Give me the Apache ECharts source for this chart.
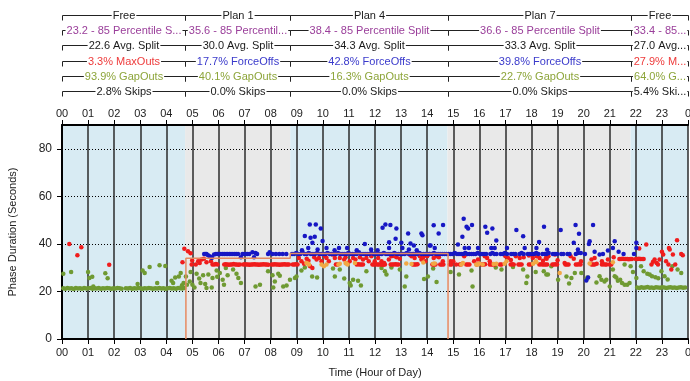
<!DOCTYPE html>
<html>
<head>
<meta charset="utf-8">
<title>Split Monitor</title>
<script src="https://cdn.jsdelivr.net/npm/echarts@6/dist/echarts.min.js"></script>
<style>
  html, body { margin: 0; padding: 0; background: #fff; }
  #chart { width: 690px; height: 381px; }
</style>
</head>
<body>
<div id="chart"></div>
<script>
// ---- axis labels ----
const hourLabels = ['00','01','02','03','04','05','06','07','08','09','10','11',
  '12','13','14','15','16','17','18','19','20','21','22','23','0'];

// ---- timing plan periods (hour of day) ----
const planStarts = [0, 4.72, 8.75, 14.78, 21.8];
const planEnds   = [4.72, 8.75, 14.78, 21.8, 24];

// ---- per-plan summary rows ----
const planNames = ['Free', 'Plan 1', 'Plan 4', 'Plan 7', 'Free'];
const pctSplitLabels = ['23.2 - 85 Percentile S...', '35.6 - 85 Percentil...',
  '38.4 - 85 Percentile Split', '36.6 - 85 Percentile Split', '33.4 - 85...'];
const avgSplitLabels = ['22.6 Avg. Split', '30.0 Avg. Split', '34.3 Avg. Split',
  '33.3 Avg. Split', '27.0 Avg...'];
const terminationLabels = ['3.3% MaxOuts', '17.7% ForceOffs', '42.8% ForceOffs',
  '39.8% ForceOffs', '27.9% M...'];
const terminationKinds = ['max', 'force', 'force', 'force', 'max'];
const gapOutLabels = ['93.9% GapOuts', '40.1% GapOuts', '16.3% GapOuts',
  '22.7% GapOuts', '64.0% G...'];
const skipLabels = ['2.8% Skips', '0.0% Skips', '0.0% Skips', '0.0% Skips', '5.4% Ski...'];

// ---- programmed split (seconds) ----
const programmedSplit = [[4.75, 0], [4.75, 34], [8.75, 34], [8.75, 36], [14.8, 36], [14.8, 0]];

// ---- phase terminations: [hour, duration seconds] ----
const gapOuts = [
  [0.05,21.3],[0.13,21.1],[0.21,21.4],[0.29,21.2],[0.37,21.3],[0.45,21.0],[0.53,21.4],[0.61,21.2],
  [0.69,21.3],[0.77,21.1],[0.85,21.4],[0.93,21.2],[1.01,21.3],[1.09,21.5],[1.17,21.1],[1.25,21.3],
  [1.33,21.2],[1.41,21.4],[1.49,21.1],[1.57,21.3],[1.65,21.2],[1.73,21.4],[1.81,21.3],[1.89,21.1],
  [1.97,21.3],[2.05,21.2],[2.13,21.4],[2.21,21.3],[2.29,21.1],[2.45,21.3],[2.53,21.2],[2.61,21.4],
  [2.69,21.1],[2.77,21.3],[2.85,21.2],[2.93,21.4],[3.01,21.3],[3.09,21.1],[3.17,21.3],[3.25,21.2],
  [3.33,21.4],[3.41,21.3],[3.49,21.1],[3.57,21.3],[3.65,21.2],[3.73,21.4],[3.81,21.2],[3.89,21.3],
  [3.97,21.1],[4.05,21.3],[4.13,21.4],[4.21,21.2],[4.29,21.3],[4.37,21.1],[4.45,21.5],[4.53,21.3],
  [4.61,21.2],[4.69,21.4],
  [0.05,27.4],[0.35,28.2],[1.0,28.2],[1.05,25.7],[1.16,26.2],[1.2,22.1],[1.66,27.6],[1.75,25.5],
  [2.9,23.1],[3.09,28.8],[3.17,27.8],[3.36,30.3],[3.65,23.5],[3.74,31.0],[3.96,30.7],[4.2,24.5],
  [4.26,23.5],[4.34,25.9],[4.48,26.3],[4.55,27.8],[4.6,22.6],[4.66,23.5],
  [4.75,26.3],[4.79,22.8],[4.9,24.2],[4.93,28.2],[5.0,22.8],[5.08,21.7],[5.16,27.4],[5.26,25.4],
  [5.31,23.5],[5.41,26.8],[5.49,23.1],[5.54,21.4],[5.61,27.1],[5.74,21.7],[5.77,25.7],[5.93,28.8],
  [5.95,26.2],[6.05,27.8],[6.16,24.9],[6.21,22.8],[6.28,29.9],[6.35,26.8],[6.56,29.2],[6.69,27.4],
  [6.76,25.7],[6.86,23.5],[7.42,22.1],[7.59,22.8],[7.9,28.5],[8.07,26.8],[8.1,21.7],[8.16,24.2],
  [8.29,27.4],[8.35,26.6],[8.48,22.1],[8.61,22.5],[8.74,24.9],
  [8.93,25.7],[8.99,26.3],[9.18,28.8],[9.31,30.1],[9.59,26.3],[9.78,25.9],[10.39,29.6],[10.46,26.3],
  [10.65,29.2],[10.82,25.4],[10.95,31.7],[11.03,23.5],[11.07,22.5],[11.16,24.9],[11.35,24.5],
  [11.46,22.5],[11.67,28.5],[12.25,29.9],[12.38,28.5],[12.44,27.1],[12.63,30.1],[12.95,29.2],
  [13.14,22.1],[13.2,26.3],[13.88,25.2],[14.03,26.3],[14.23,29.6],[14.36,24.0],
  [14.9,28.2],[15.22,27.1],[15.7,28.8],[15.74,22.1],[16.63,30.1],[16.85,29.2],[17.29,30.3],
  [17.68,29.2],[17.8,23.5],[17.84,26.3],[18.16,28.2],[18.47,28.5],[18.57,27.1],[18.63,27.1],
  [18.76,30.6],[19.02,24.9],[19.34,26.3],[19.44,23.3],[19.53,25.7],[19.66,27.8],[19.91,27.8],
  [20.1,24.9],[20.14,25.9],[20.49,23.8],[20.61,26.4],[20.68,24.9],[20.8,24.2],[20.87,24.9],
  [21.0,22.1],[21.12,29.2],[21.19,26.4],[21.25,25.9],[21.31,24.5],[21.4,24.9],[21.47,23.5],
  [21.57,22.8],[21.57,31.3],[21.67,22.8],[21.76,23.5],[21.8,30.6],
  [21.89,28.2],[22.02,25.7],[22.2,30.6],[22.3,28.5],[22.44,27.4],[22.53,27.1],[22.62,26.4],
  [22.75,26.0],[22.86,25.6],[22.98,28.5],[23.1,26.4],[23.22,25.0],[23.4,30.6],[23.6,29.2],[23.74,27.8],
  [22.05,21.7],[22.13,21.5],[22.21,21.8],[22.29,21.6],[22.37,21.7],[22.45,21.9],[22.53,21.6],
  [22.61,21.7],[22.69,21.5],[22.77,21.8],[22.85,21.7],[22.93,21.6],[23.01,21.8],[23.09,21.7],
  [23.17,21.5],[23.25,21.7],[23.33,21.8],[23.41,21.6],[23.49,21.7],[23.57,21.5],[23.65,21.7],
  [23.73,21.8],[23.81,21.6],[23.89,21.7]
];

const maxOuts = [
  [0.28,40.0],[0.59,35.2],[0.74,38.6],[1.81,31.2],
  [4.62,32.3],[4.69,38.0],[4.83,36.9],[4.93,36.1],[4.99,33.0],[4.97,31.3],[5.13,31.3],[5.22,32.7],
  [5.28,32.0],[5.35,33.4],[5.44,33.8],[5.54,32.3],[5.71,32.7],
  [5.77,31.3],[5.84,31.3],[5.90,31.5],[5.96,31.3],[6.22,31.3],[6.28,31.4],[6.34,31.3],[6.40,31.2],
  [6.46,31.3],[6.52,31.3],[6.58,31.5],[6.64,31.3],[6.70,31.3],[6.76,31.2],[6.82,31.3],[6.95,31.3],
  [7.01,31.4],[7.07,31.3],[7.13,31.3],[7.19,31.2],[7.25,31.3],[7.31,31.3],[7.37,31.4],[7.43,31.3],
  [7.49,31.3],[7.55,31.2],[7.61,31.3],[7.67,31.3],[7.73,31.4],[7.79,31.3],[7.85,31.3],[7.91,31.2],
  [8.04,31.3],[8.10,31.3],[8.16,31.4],[8.22,31.3],[8.28,31.3],[8.34,31.2],[8.40,31.3],[8.46,31.3],
  [8.52,31.4],[8.58,31.3],[8.64,31.3],[8.70,31.3],
  [8.85,31.3],[8.91,31.3],[8.97,31.4],[9.03,31.3],[9.51,30.6],[9.6,29.9],[10.5,31.3],[10.56,31.3],
  [11.3,31.3],[11.36,31.4],[11.42,31.3],[11.48,31.3],[11.54,31.3],[11.9,31.3],[11.96,31.3],
  [12.02,31.4],[12.08,31.3],[12.14,31.3],[12.2,31.3],[12.26,31.3],[12.32,31.2],[12.38,31.3],
  [12.6,31.3],[12.66,31.3],[12.72,31.3],[12.78,31.4],[12.84,31.3],[12.9,31.3],[13.45,31.3],
  [13.51,31.3],[13.57,31.3],[13.63,31.4],[14.2,31.3],[14.26,31.3],[14.32,31.3],[14.5,31.3],
  [14.56,31.3],[14.62,31.3],
  [9.08,34.1],[9.18,32.7],[9.28,31.6],[9.38,33.8],[9.45,32.9],[9.67,34.4],[9.76,33.4],[9.85,34.1],
  [9.95,32.7],[10.08,34.8],[10.14,34.1],[10.23,32.7],[10.36,35.5],[10.46,34.1],[10.65,34.1],
  [10.82,33.4],[10.87,34.4],[11.03,32.7],[11.16,34.1],[11.25,33.4],[11.42,34.4],[11.54,33.4],
  [11.67,34.1],[11.76,32.7],[11.86,34.8],[11.99,32.7],[12.12,34.1],[12.25,32.7],[12.35,32.0],
  [12.53,33.4],[12.63,34.8],[12.64,35.6],[12.76,34.8],[12.83,34.4],[12.95,33.8],[13.33,35.5],
  [13.4,34.8],[13.46,35.8],[13.52,34.1],[13.72,34.8],[13.78,33.4],[13.85,34.4],[13.93,32.7],
  [14.0,34.8],[14.1,35.8],[14.25,34.1],[14.35,34.8],[14.45,34.4],[14.6,32.7],
  [14.87,31.3],[14.93,31.3],[15.25,31.3],[15.31,31.4],[15.5,31.3],[15.56,31.3],[15.62,31.3],
  [15.9,31.3],[16.1,31.3],[16.16,31.3],[16.22,31.4],[16.4,31.3],[16.46,31.3],[16.52,31.3],
  [16.79,31.3],[16.85,31.3],[17.2,31.3],[17.26,31.4],[17.32,31.3],[17.5,31.3],[17.56,31.3],
  [17.62,31.3],[17.9,31.3],[17.96,31.3],[18.3,31.3],[18.36,31.4],[18.42,31.3],[18.48,31.3],
  [18.54,31.3],[18.6,31.3],[18.8,31.3],[18.86,31.3],[18.92,31.4],[18.98,31.3],[19.3,31.3],
  [19.36,31.3],[19.42,31.3],[19.7,31.3],[19.76,31.3],[19.82,31.4],[19.88,31.3],[20.3,31.3],
  [20.36,31.3],[20.42,31.3],[20.7,31.3],[20.76,31.4],[20.82,31.3],[20.88,31.3],[21.0,31.3],[21.06,31.3],
  [14.9,32.7],[15.0,32.7],[15.11,31.3],[15.42,34.8],[15.5,35.8],[15.8,32.7],[15.95,33.4],[16.21,34.8],
  [16.3,34.1],[16.4,32.7],[16.6,31.3],[17.0,34.8],[17.1,34.1],[17.21,33.2],[17.4,34.8],[17.55,34.1],
  [17.7,34.4],[17.9,35.1],[18.05,34.1],[18.2,34.8],[18.31,34.1],[18.44,32.9],[18.55,34.1],
  [18.58,33.8],[18.65,34.8],[18.9,35.5],[19.0,33.1],[19.27,32.0],[19.5,34.8],[19.62,33.8],
  [19.9,32.7],[20.3,33.4],[20.42,34.1],[20.5,31.6],[20.7,32.7],[20.93,33.4],[21.15,34.4],
  [21.37,33.6],[21.43,33.6],[21.49,33.7],[21.55,33.6],[21.61,33.6],[21.67,33.6],[21.73,33.5],
  [21.79,33.6],[21.85,33.6],[22.0,33.6],[22.06,33.6],[22.12,33.7],[22.18,33.6],[22.24,33.6],[22.3,33.6],
  [22.13,38.1],[22.4,39.7],[22.6,31.3],[22.66,32.5],[22.72,33.4],[22.8,32.0],[22.85,31.3],
  [22.91,33.4],[23.0,36.7],[23.05,35.5],[23.16,32.7],[23.25,31.3],[23.27,38.3],[23.3,37.6],
  [23.36,29.2],[23.42,35.5],[23.51,31.3],[23.58,41.5],[23.74,35.8],[23.8,35.2]
];

const forceOffs = [
  [5.45,35.8],[5.5,35.8],[5.54,35.8],[5.6,35.2],[5.66,34.8],[5.72,34.4],[5.75,34.2],[5.83,35.5],
  [5.9,35.8],[5.96,35.8],[6.03,35.8],[6.09,35.8],[6.16,35.8],[6.22,35.8],[6.29,35.8],[6.35,35.8],
  [6.42,35.8],[6.48,35.8],[6.55,35.8],[6.62,35.8],[6.68,35.8],[6.75,35.8],[6.86,34.4],[6.92,35.8],
  [6.98,35.8],[7.05,35.8],[7.11,35.8],[7.18,35.8],[7.3,36.5],[7.36,34.4],[7.42,36.2],[7.48,35.8],
  [7.9,35.8],[7.96,36.5],[8.07,35.8],[8.2,35.8],[8.33,35.8],[8.46,35.8],[8.6,35.8],
  [8.82,35.8],[8.9,35.8],[8.98,36.2],[9.06,35.8],[9.14,35.8],[9.22,36.5],[9.3,35.8],[9.38,35.8],
  [9.46,36.2],[9.54,35.8],[9.62,35.8],[9.7,35.8],[9.78,36.2],[9.86,35.8],[9.94,35.8],[10.02,35.8],
  [10.1,35.8],[10.18,36.2],[10.26,35.8],[10.34,35.8],[10.42,35.8],[10.5,35.8],[10.58,36.2],
  [10.66,35.8],[10.74,35.8],[10.82,35.8],[10.9,35.8],[10.98,36.2],[11.06,35.8],[11.14,35.8],
  [11.22,35.8],[11.3,35.8],[11.38,36.5],[11.46,35.8],[11.54,35.8],[11.62,35.8],[11.7,35.8],
  [11.78,35.8],[11.86,36.2],[11.94,35.8],[12.02,35.8],[12.1,35.8],[12.18,35.8],[12.26,35.8],
  [12.34,36.2],[12.42,35.8],[12.5,35.8],[12.58,35.8],[12.66,35.8],[12.74,36.2],[12.82,35.8],
  [12.9,35.8],[12.98,35.8],[13.06,35.8],[13.14,35.8],[13.22,36.2],[13.3,35.8],[13.38,35.8],
  [13.46,35.8],[13.54,35.8],[13.62,35.8],[13.7,36.2],[13.78,35.8],[13.86,35.8],[13.94,35.8],
  [14.02,35.8],[14.1,35.8],[14.18,35.8],[14.26,36.2],[14.34,35.8],[14.42,35.8],[14.5,35.8],
  [14.58,35.8],[14.66,35.8],[14.74,35.8],
  [9.2,37.3],[9.44,38.3],[9.8,37.6],[10.14,38.3],[10.45,37.3],[10.62,38.3],[10.93,38.3],[11.3,37.3],
  [11.85,37.6],[12.1,37.3],[12.54,38.3],[13.05,38.3],[13.3,37.6],[13.49,39.3],[13.6,37.3],
  [14.13,39.3],[14.29,38.3],
  [9.31,43.3],[9.5,48.2],[9.53,42.6],[9.6,40.5],[9.69,43.0],[9.73,48.2],[9.92,46.5],[9.99,41.2],
  [11.61,40.0],[12.29,46.8],[12.4,48.2],[12.59,47.9],[12.82,46.5],[12.79,42.2],[12.54,40.7],
  [13.27,44.4],[13.01,40.5],[13.36,40.2],[13.78,44.4],[13.82,43.6],[14.1,39.3],[14.25,47.8],
  [14.44,44.4],[14.61,47.9],
  [14.82,35.8],[14.9,35.8],[14.98,35.8],[15.06,36.2],[15.14,35.8],[15.22,35.8],[15.3,35.8],
  [15.38,35.8],[15.46,36.2],[15.54,35.8],[15.62,35.8],[15.7,35.8],[15.78,35.8],[15.86,35.8],
  [15.94,36.2],[16.02,35.8],[16.1,35.8],[16.18,35.8],[16.26,35.8],[16.42,35.8],[16.5,36.2],
  [16.58,35.8],[16.66,35.8],[16.82,35.8],[16.9,35.8],[16.98,36.2],[17.06,35.8],[17.22,35.8],
  [17.3,35.8],[17.38,35.8],[17.54,35.8],[17.62,36.2],[17.7,35.8],[17.86,35.8],[17.94,35.8],
  [18.02,35.8],[18.1,35.8],[18.18,36.2],[18.26,35.8],[18.42,35.8],[18.5,35.8],[18.58,35.8],
  [18.66,36.2],[18.82,35.8],[18.9,35.8],[18.98,35.8],[19.14,35.8],[19.22,35.8],[19.38,35.8],
  [19.46,35.8],[19.7,35.8],[19.78,36.2],[19.89,36.2],[20.05,35.8],[20.61,35.5],[20.74,35.8],
  [21.34,36.7],[21.53,35.8],[21.93,35.8],
  [15.18,39.7],[15.35,43.0],[15.4,50.6],[15.44,38.3],[15.51,47.2],[15.57,46.5],[15.6,38.3],
  [15.72,47.9],[15.95,38.3],[16.23,47.2],[16.3,44.7],[16.46,38.3],[16.5,46.5],[16.59,38.3],
  [16.65,41.4],[17.06,38.3],[17.42,45.8],[17.68,43.2],[17.74,38.3],[18.19,38.3],[18.29,40.8],
  [18.48,47.2],[18.6,37.5],[19.12,45.8],[19.62,40.5],[19.69,47.9],[19.82,44.3],[19.78,37.6],
  [20.2,40.0],[20.23,41.1],[20.36,47.9],[20.42,36.7],[20.93,37.2],[21.12,38.3],[21.19,41.1],
  [22.02,40.5],[22.02,38.3],[20.1,24.6],[20.17,25.9]
];

const pedActivity = [
  [9.37,32.0],[9.44,31.6],[9.47,31.3],[9.95,31.3],[10.04,30.6],[10.14,31.3],[10.6,31.3],[10.65,31.6],
  [10.87,32.0],[10.9,31.7],[10.95,31.3],[11.23,32.0],[13.2,31.8],[13.4,31.5],[13.85,32.2],
  [14.23,31.6],[14.29,31.7],[15.31,31.3],[15.37,32.0],[15.88,31.3],[15.95,31.3],[16.0,31.7],
  [16.13,31.3],[16.55,31.5],[16.65,31.6],[16.97,31.6],[17.04,32.7],[18.06,31.6],[18.16,32.7],
  [18.19,32.3],[19.08,27.8],[20.23,31.7],[21.12,32.3]
];

// ---- styling ----
const FONT = '"Liberation Sans", Arial, sans-serif';
const bandFills = ['#D8EBF3', '#E9E9E9', '#D8EBF3', '#E9E9E9', '#D8EBF3'];
const termColors = { max: '#EE3B3B', force: '#3A3ACB' };
const headerRows = [
  { labels: planNames,         colors: planNames.map(() => '#1a1a1a') },
  { labels: pctSplitLabels,    colors: pctSplitLabels.map(() => '#9A3E9A') },
  { labels: avgSplitLabels,    colors: avgSplitLabels.map(() => '#1a1a1a') },
  { labels: terminationLabels, colors: terminationKinds.map(k => termColors[k]) },
  { labels: gapOutLabels,      colors: gapOutLabels.map(() => '#8DA53A') },
  { labels: skipLabels,        colors: skipLabels.map(() => '#1a1a1a') }
];
const headerRowY = [15.5, 30.5, 45.5, 61.5, 76.5, 91.5];

const headerData = [];
headerRows.forEach((row, r) => {
  planStarts.forEach((s, i) => headerData.push([s, planEnds[i], r, i]));
});
const bandData = planStarts.map((s, i) => [s, planEnds[i], i]);

const chart = echarts.init(document.getElementById('chart'), null, { renderer: 'canvas' });

const dot = (name, data, color) => ({
  name, type: 'scatter', data, symbolSize: 4.5,
  itemStyle: { color, opacity: 1 },
  emphasis: { disabled: true }, silent: true
});

chart.setOption({
  animation: false,
  textStyle: { fontFamily: FONT },
  grid: { left: 62, right: 2, top: 125, bottom: 42, containLabel: false, outerBoundsMode: 'none' },
  xAxis: [
    {
      type: 'value', min: 0, max: 24, interval: 1, position: 'bottom',
      name: 'Time (Hour of Day)', nameLocation: 'middle', nameGap: 28,
      nameTextStyle: { fontSize: 11, color: '#222', fontFamily: FONT },
      axisLine: { show: true, onZero: false, lineStyle: { color: '#000', width: 2 } },
      axisTick: { show: true, length: 5, lineStyle: { color: '#000' } },
      axisLabel: { fontSize: 11, color: '#222', margin: 8, fontFamily: FONT,
        formatter: v => hourLabels[Math.round(v)] },
      splitLine: { show: true, lineStyle: { color: '#2b2b2b', width: 1.5 } }
    },
    {
      type: 'value', min: 0, max: 24, interval: 1, position: 'top',
      axisLine: { show: true, onZero: false, lineStyle: { color: '#000', width: 2 } },
      axisTick: { show: true, length: 5, lineStyle: { color: '#000' } },
      axisLabel: { fontSize: 11, color: '#222', margin: 6, fontFamily: FONT,
        formatter: v => hourLabels[Math.round(v)] },
      splitLine: { show: false }
    }
  ],
  yAxis: {
    type: 'value', min: 0, max: 90, interval: 20,
    name: 'Phase Duration (Seconds)', nameLocation: 'middle', nameGap: 44,
    nameTextStyle: { fontSize: 11, color: '#222', fontFamily: FONT },
    axisLine: { show: true, lineStyle: { color: '#000', width: 2 } },
    axisTick: { show: true, length: 5, lineStyle: { color: '#000' }, customValues: [0, 20, 40, 60, 80] },
    axisLabel: { fontSize: 12, color: '#222', margin: 10, fontFamily: FONT, customValues: [0, 20, 40, 60, 80] },
    splitLine: { show: true, lineStyle: { color: '#000', width: 1, type: [1, 2] } }
  },
  series: [
    {
      name: 'Plan periods', type: 'custom', z: -5, silent: true,
      data: bandData, encode: { x: [0, 1] },
      renderItem: (params, api) => {
        const x0 = api.coord([api.value(0), 0])[0];
        const x1 = api.coord([api.value(1), 0])[0];
        const cs = params.coordSys;
        return { type: 'rect', shape: { x: x0, y: cs.y, width: x1 - x0, height: cs.height },
          style: { fill: bandFills[api.value(2)] } };
      }
    },
    {
      name: 'Plan summary', type: 'custom', silent: true, clip: false,
      data: headerData, encode: { x: [0, 1] },
      renderItem: (params, api) => {
        const x0 = Math.round(api.coord([api.value(0), 0])[0]) + 0.5;
        const x1 = Math.round(api.coord([api.value(1), 0])[0]) + 0.5;
        const r = api.value(2), i = api.value(3);
        const y = headerRowY[r];
        const ln = { stroke: '#222', lineWidth: 1 };
        return {
          type: 'group', children: [
            { type: 'line', shape: { x1: x0, y1: y, x2: x1, y2: y }, style: ln },
            { type: 'line', shape: { x1: x0, y1: y, x2: x0, y2: y + 5 }, style: ln },
            { type: 'line', shape: { x1: x1, y1: y, x2: x1, y2: y + 5 }, style: ln },
            { type: 'text', x: (x0 + x1) / 2, y: y,
              style: { text: headerRows[r].labels[i], fill: headerRows[r].colors[i],
                font: '11px ' + FONT, align: 'center', verticalAlign: 'middle',
                backgroundColor: '#fff', padding: [0, 1] } }
          ]
        };
      }
    },
    {
      name: 'Programmed Split', type: 'line', data: programmedSplit,
      showSymbol: false, silent: true,
      lineStyle: { color: '#E58A62', width: 1.5 }
    },
    dot('GapOut', gapOuts, '#6F9A32'),
    dot('MaxOut', maxOuts, '#F01C1C'),
    dot('Ped Activity', pedActivity, '#F2A844'),
    dot('ForceOff', forceOffs, '#1717C4')
  ]
});
</script>
</body>
</html>
